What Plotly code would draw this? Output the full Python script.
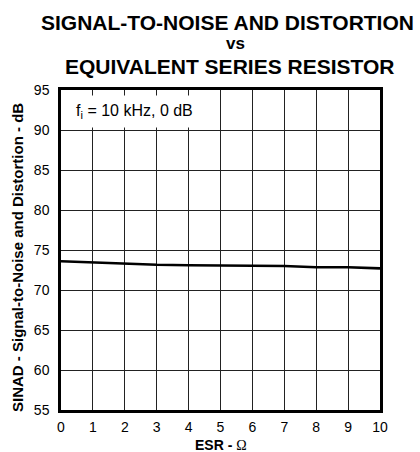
import plotly.graph_objects as go

esr = [0, 1, 2, 3, 4, 5, 6, 7, 8, 9, 10]
sinad = [73.6, 73.45, 73.35, 73.15, 73.1, 73.05, 73.0, 73.0, 72.85, 72.85, 72.7]
x_ticks = [0, 1, 2, 3, 4, 5, 6, 7, 8, 9, 10]
y_ticks = [55, 60, 65, 70, 75, 80, 85, 90, 95]

FONT = "Liberation Sans, Arial, sans-serif"

plot_l, plot_r, plot_t, plot_b = 61, 380, 90, 410
W, H = 420, 452

fig = go.Figure()
fig.add_trace(go.Scatter(x=esr, y=sinad, mode="lines",
                         line=dict(color="black", width=2.6), showlegend=False,
                         hoverinfo="skip"))

fig.update_layout(
    width=W, height=H,
    margin=dict(l=plot_l, r=W - plot_r, t=plot_t, b=H - plot_b, autoexpand=False),
    paper_bgcolor="white", plot_bgcolor="white",
    font=dict(family=FONT, color="black", size=14),
    xaxis=dict(range=[0, 10], tickvals=x_ticks, ticks="", showgrid=True,
               gridcolor="#222", gridwidth=1, zeroline=False,
               showline=True, linecolor="black", linewidth=2.5, mirror=True,
               tickfont=dict(size=14), ticklabelstandoff=2),
    yaxis=dict(range=[55, 95], tickvals=y_ticks, ticks="", showgrid=True,
               gridcolor="#222", gridwidth=1, zeroline=False,
               showline=True, linecolor="black", linewidth=2.5, mirror=True,
               tickfont=dict(size=14), ticklabelstandoff=6),
)


def px(xp):
    return (xp - plot_l) / (plot_r - plot_l)


def py(yp):
    return (plot_b - yp) / (plot_b - plot_t)


ann = [
    dict(text="<b>SIGNAL-TO-NOISE AND DISTORTION</b>", x=227, y=22, size=21),
    dict(text="<b>vs</b>", x=235, y=44, size=17),
    dict(text="<b>EQUIVALENT SERIES RESISTOR</b>", x=229, y=66, size=21),
]
for a in ann:
    fig.add_annotation(text=a["text"], x=px(a["x"]), y=py(a["y"]),
                       xref="paper", yref="paper", xanchor="center", yanchor="middle",
                       showarrow=False, font=dict(size=a["size"], family=FONT))

fig.add_annotation(text="<b>SINAD - Signal-to-Noise and Distortion - dB</b>",
                   x=px(17), y=py(258), xref="paper", yref="paper",
                   textangle=-90, showarrow=False, font=dict(size=15, family=FONT),
                   xanchor="center", yanchor="middle")
fig.add_annotation(text="<b>ESR - </b><span style=\"font-family:'Liberation Serif', 'Times New Roman', serif\">Ω</span>",
                   x=px(221), y=py(445), xref="paper", yref="paper",
                   showarrow=False, font=dict(size=14, family=FONT),
                   xanchor="center", yanchor="middle")
fig.add_annotation(text="f<sub>i</sub> = 10 kHz, 0 dB", x=px(69), y=py(111),
                   xref="paper", yref="paper", xanchor="left", yanchor="middle",
                   showarrow=False, font=dict(size=16, family=FONT),
                   bgcolor="white", borderpad=6)

fig.write_html("out.html", config={"displayModeBar": False},
               post_script="document.body.style.margin='0';")
